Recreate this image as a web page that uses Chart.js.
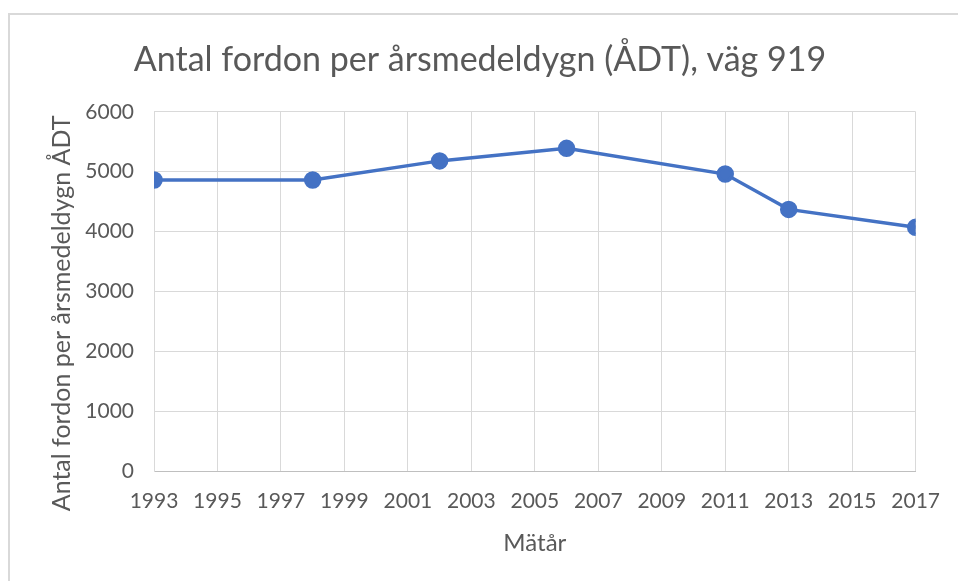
<!DOCTYPE html>
<html>
<head>
<meta charset="utf-8">
<script src="https://cdn.jsdelivr.net/npm/chart.js@4"></script>
<style>
    body { margin: 0; background: #fff; }
    #ram { position: absolute; left: 8px; top: 13px; width: 1000px; height: 600px; border-left: 2px solid #d9d9d9; border-top: 2px solid #d9d9d9; }
    #wrap { position: absolute; left: 0; top: 0; width: 958px; height: 581px; }
</style>
</head>
<body>
<div id="ram"></div>
<div id="wrap"><canvas id="doThi" width="958" height="581"></canvas></div>
<script>
// Mätår och ÅDT-värden
var _ar = [1993, 1998, 2002, 2006, 2011, 2013, 2017];
var _adt = [4860, 4860, 5180, 5390, 4960, 4370, 4070];
var _xMin = 1993, _xMax = 2017, _xSteg = 2;
var _yMin = 0, _yMax = 6000, _ySteg = 1000;
var _yTitel = 'Antal fordon per årsmedeldygn ÅDT';

var _textFarg = '#595959';
var _font = 'Lato, "Open Sans", sans-serif';

function byggPunkter(xs, ys) {
    var punkter = [];
    xs.forEach(function (x, i) {
        punkter.push({ x: x, y: ys[i] });
    });
    return punkter;
}

// Y-axelns titel, centrerad på hela axeln (inkl. etiketter) som i Excel
var yTitelPlugin = {
    id: 'yTitel',
    afterDraw: function (chart) {
        var c = chart.ctx;
        var area = chart.chartArea;
        c.save();
        c.translate(62, (area.top + area.bottom) / 2 + 22);
        c.rotate(-Math.PI / 2);
        c.fillStyle = _textFarg;
        c.font = '25px ' + _font;
        c.textAlign = 'center';
        c.textBaseline = 'middle';
        c.fillText(_yTitel, 0, 0);
        c.restore();
    }
};

var ctx = document.getElementById('doThi').getContext('2d');
new Chart(ctx, {
    type: 'line',
    data: {
        datasets: [{
            label: 'ÅDT',
            data: byggPunkter(_ar, _adt),
            borderColor: '#4472C4',
            backgroundColor: '#4472C4',
            borderWidth: 3.5,
            pointRadius: 7,
            pointHoverRadius: 7,
            tension: 0
        }]
    },
    options: {
        responsive: false,
        animation: false,
        devicePixelRatio: 1,
        layout: { padding: { left: 43, right: 41, top: 0, bottom: 19 } },
        plugins: {
            legend: { display: false },
            tooltip: { enabled: false },
            title: {
                display: true,
                text: 'Antal fordon per årsmedeldygn (ÅDT), väg 919',
                color: _textFarg,
                font: { family: _font, size: 34, weight: 'normal' },
                padding: { top: 40, bottom: 31 }
            }
        },
        scales: {
            x: {
                type: 'linear',
                min: _xMin,
                max: _xMax,
                afterFit: function (scale) { scale.height = 91; },
                ticks: {
                    stepSize: _xSteg,
                    color: _textFarg,
                    padding: 18,
                    maxRotation: 0,
                    font: { family: _font, size: 21 },
                    callback: function (v) { return String(v); }
                },
                grid: { color: '#d9d9d9', drawTicks: false },
                border: { color: '#bfbfbf' },
                title: {
                    display: true,
                    text: 'Mätår',
                    color: _textFarg,
                    font: { family: _font, size: 24 }
                }
            },
            y: {
                min: _yMin,
                max: _yMax,
                afterFit: function (scale) { scale.width = 111; },
                ticks: {
                    stepSize: _ySteg,
                    color: _textFarg,
                    padding: 20,
                    font: { family: _font, size: 21 },
                    callback: function (v) { return String(v); }
                },
                grid: { color: '#d9d9d9', drawTicks: false },
                border: { color: '#d9d9d9' }
            }
        }
    },
    plugins: [yTitelPlugin]
});
</script>
</body>
</html>
